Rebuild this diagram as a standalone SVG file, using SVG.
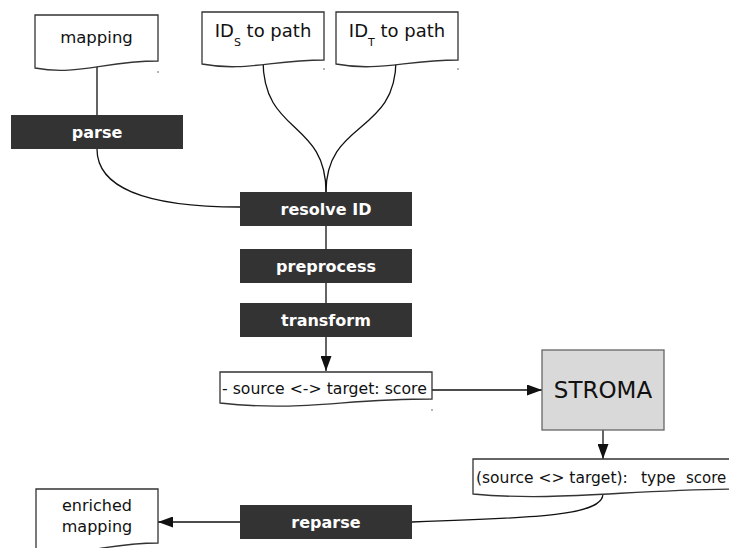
<svg xmlns="http://www.w3.org/2000/svg" width="729" height="548" viewBox="0 0 729 548">
  <style>
    .doc { fill: #ffffff; stroke: #333333; stroke-width: 1.3; }
    .dot { fill: #555555; }
    .step { fill: #333333; }
    .steplbl { font-family: "DejaVu Sans", sans-serif; font-weight: bold; font-size: 16px; fill: #ffffff; text-anchor: middle; }
    .lbl { font-family: "DejaVu Sans", sans-serif; fill: #111111; }
    .mid { text-anchor: middle; }
    .conn { fill: none; stroke: #111111; stroke-width: 1.3; }
    .tool { fill: #d9d9d9; stroke: #666666; stroke-width: 1.3; }
  </style>
  <defs>
    <marker id="arrow" markerUnits="userSpaceOnUse" markerWidth="15" markerHeight="11" refX="15" refY="5.5" orient="auto">
      <path d="M0,0 L15,5.5 L0,11 Z" fill="#111111"/>
    </marker>
  </defs>
  <rect width="729" height="548" fill="#ffffff"/>

  <!-- connectors -->
  <g id="connectors">
    <path class="conn" d="M97,62 V149 C97,185 140,207 240,207"/>
    <path class="conn" d="M263,60 C263,135 326,120 326,192"/>
    <path class="conn" d="M396,60 C396,135 326,120 326,192"/>
    <path class="conn" d="M326,192 V371" marker-end="url(#arrow)"/>
    <path class="conn" d="M432,390 H542" marker-end="url(#arrow)"/>
    <path class="conn" d="M603,430 V459" marker-end="url(#arrow)"/>
    <path class="conn" d="M603,494 C603,515 540,518 412,522"/>
    <path class="conn" d="M412,522 H158" marker-end="url(#arrow)"/>
  </g>

  <!-- input documents -->
  <g id="mapping">
    <path class="doc" d="M35,15 H158 V61 C104,61 78,76 35,68 Z"/>
    <circle class="dot" cx="158" cy="72" r="0.8"/>
    <text class="lbl mid" x="96.5" y="43" font-size="16.5">mapping</text>
  </g>
  <g id="ids-to-path">
    <path class="doc" d="M202,12 H324 V60 C271,60 245,72 202,64 Z"/>
    <circle class="dot" cx="324" cy="69" r="0.8"/>
    <text class="lbl mid" x="263" y="37" font-size="18">ID<tspan font-size="11" dy="9">S</tspan><tspan dy="-9"> to path</tspan></text>
  </g>
  <g id="idt-to-path">
    <path class="doc" d="M336,12 H458 V60 C405,60 379,72 336,64 Z"/>
    <circle class="dot" cx="458" cy="69" r="0.8"/>
    <text class="lbl mid" x="397" y="37" font-size="18">ID<tspan font-size="11" dy="9">T</tspan><tspan dy="-9"> to path</tspan></text>
  </g>

  <!-- processing steps -->
  <g id="parse">
    <rect class="step" x="11" y="115" width="172" height="34"/>
    <text class="steplbl" x="97" y="138">parse</text>
  </g>
  <g id="resolve-id">
    <rect class="step" x="240" y="192" width="172" height="34"/>
    <text class="steplbl" x="326" y="215">resolve ID</text>
  </g>
  <g id="preprocess">
    <rect class="step" x="240" y="249" width="172" height="34"/>
    <text class="steplbl" x="326" y="272">preprocess</text>
  </g>
  <g id="transform">
    <rect class="step" x="240" y="303" width="172" height="34"/>
    <text class="steplbl" x="326" y="326">transform</text>
  </g>

  <!-- intermediate list -->
  <g id="pairs">
    <path class="doc" d="M220,372 H432 V399 C340,399 300,412 220,403 Z"/>
    <circle class="dot" cx="432" cy="410" r="0.8"/>
    <text class="lbl" x="222" y="394" font-size="15.7">- source &lt;-&gt; target: score</text>
  </g>

  <!-- matcher -->
  <g id="stroma">
    <rect class="tool" x="542" y="350" width="122" height="80"/>
    <text class="lbl mid" x="603" y="398" font-size="23">STROMA</text>
  </g>

  <!-- matcher output -->
  <g id="typed-pairs">
    <path class="doc" d="M473,459 H745 V489 C630,489 560,502 473,494 Z"/>
    <text class="lbl" x="476" y="483" font-size="15.5">(source &lt;&gt; target):<tspan x="641">type</tspan><tspan x="686" font-size="15">score</tspan></text>
  </g>

  <g id="reparse">
    <rect class="step" x="240" y="505" width="172" height="34"/>
    <text class="steplbl" x="326" y="528">reparse</text>
  </g>

  <g id="enriched-mapping">
    <path class="doc" d="M36,489 H158 V543 C105,543 79,558 36,550 Z"/>
    <text class="lbl mid" x="97" y="511" font-size="16">enriched</text>
    <text class="lbl mid" x="97" y="532" font-size="16">mapping</text>
  </g>
</svg>
